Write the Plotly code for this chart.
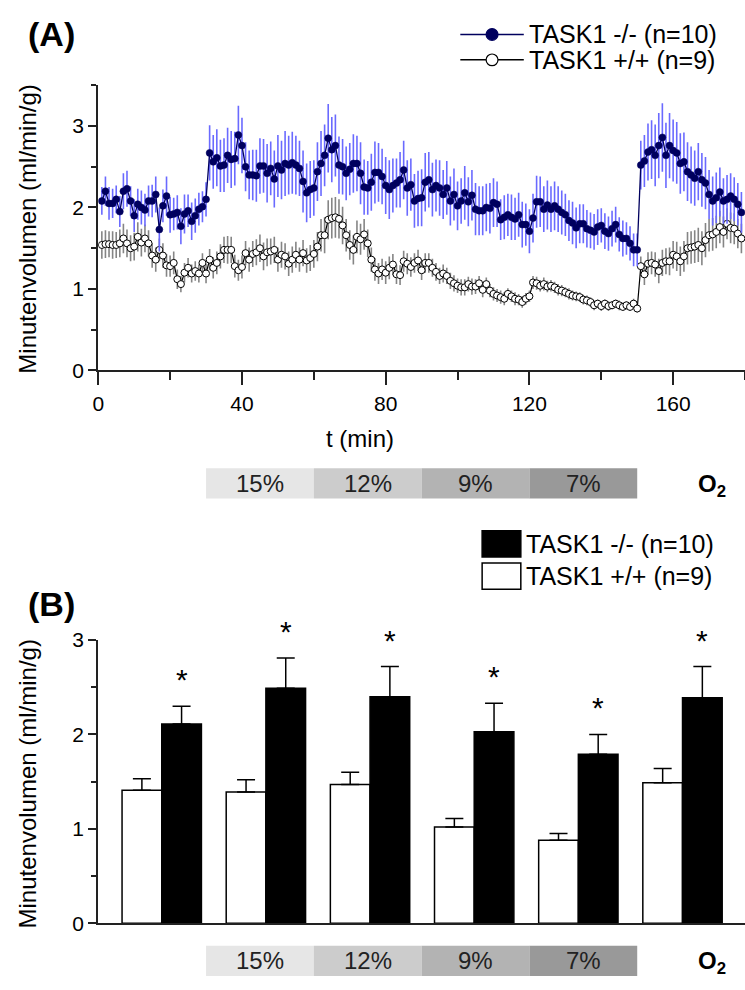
import plotly.graph_objects as go

W, H = 745, 990
FONT = "Liberation Sans, Arial, sans-serif"

# ---------------- data: panel A (time course) ----------------
time_min = list(range(1, 180))

ko_mean = [
    2.08, 2.20, 2.05, 2.05, 2.10, 1.95, 2.20, 2.23, 2.08, 1.90,
    2.04, 2.00, 1.97, 2.08, 2.08, 2.16, 1.73, 2.02, 2.14, 1.91,
    1.92, 1.94, 1.77, 1.92, 1.96, 1.83, 1.90, 1.98, 2.01, 2.10,
    2.67, 2.56, 2.61, 2.51, 2.52, 2.64, 2.59, 2.60, 2.89, 2.76,
    2.50, 2.40, 2.40, 2.39, 2.51, 2.51,
    2.42, 2.48, 2.35, 2.51, 2.46, 2.54, 2.52, 2.55, 2.52, 2.48,
    2.32, 2.18, 2.22, 2.24, 2.44, 2.54, 2.64, 2.85, 2.71, 2.76,
    2.52, 2.50, 2.42, 2.47, 2.54, 2.54, 2.42, 2.25, 2.24, 2.31,
    2.43, 2.43, 2.38, 2.27, 2.22, 2.27, 2.30, 2.34, 2.46, 2.24,
    2.28, 2.08, 2.11, 2.12, 2.31,
    2.34, 2.22, 2.27, 2.24, 2.16, 2.24, 2.08, 2.16, 2.02, 2.08,
    2.18, 2.07, 2.15, 1.98, 1.96, 1.96, 2.00, 1.99, 2.06, 2.04,
    1.85, 1.88, 1.91, 1.88, 1.86, 1.91, 1.79, 1.79, 1.71, 1.87,
    2.07, 2.07, 1.98, 2.03, 1.98, 2.02, 1.98, 1.94, 1.91, 1.84,
    1.81, 1.75, 1.80, 1.80, 1.74, 1.72,
    1.70, 1.76, 1.78, 1.71, 1.68, 1.74, 1.79, 1.67, 1.62, 1.62,
    1.56, 1.48, 1.48, 2.52, 2.57, 2.68, 2.71, 2.64, 2.76, 2.86,
    2.64, 2.76, 2.70, 2.67, 2.54, 2.56, 2.44, 2.40, 2.36, 2.44,
    2.34, 2.30, 2.16, 2.08, 2.12, 2.19, 2.08, 2.10, 2.14, 2.10,
    2.04, 1.94,
]
ko_sem = [
    0.17, 0.18, 0.20, 0.18, 0.17, 0.19, 0.22, 0.22, 0.18, 0.20,
    0.19, 0.21, 0.20, 0.19, 0.20, 0.22, 0.27, 0.20, 0.24, 0.22,
    0.20, 0.21, 0.22, 0.24, 0.20, 0.23, 0.21, 0.20, 0.19, 0.21,
    0.34, 0.33, 0.35, 0.32, 0.33, 0.34, 0.35, 0.33, 0.36, 0.34,
    0.30, 0.30, 0.31, 0.32, 0.34, 0.33,
    0.36, 0.33, 0.35, 0.38, 0.36, 0.40, 0.36, 0.38, 0.36, 0.34,
    0.38, 0.36, 0.35, 0.34, 0.36, 0.40, 0.38, 0.42, 0.40, 0.38,
    0.35, 0.34, 0.33, 0.32, 0.36, 0.34, 0.38, 0.34, 0.33, 0.35,
    0.38, 0.36, 0.34, 0.35, 0.36, 0.33, 0.30, 0.34, 0.36, 0.34,
    0.32, 0.33, 0.34, 0.35, 0.36,
    0.34, 0.33, 0.32, 0.34, 0.30, 0.33, 0.30, 0.32, 0.30, 0.28,
    0.33, 0.30, 0.31, 0.32, 0.30, 0.30, 0.29, 0.31, 0.30, 0.28,
    0.25, 0.27, 0.26, 0.28, 0.26, 0.27, 0.28, 0.26, 0.27,
    0.30, 0.32, 0.31, 0.28, 0.30, 0.28, 0.30, 0.28, 0.27, 0.26,
    0.25, 0.26, 0.25, 0.24, 0.24, 0.23, 0.22, 0.22, 0.22, 0.21,
    0.22, 0.21, 0.22, 0.22, 0.21, 0.22, 0.20, 0.21, 0.20, 0.20,
    0.30, 0.32, 0.35, 0.36, 0.38, 0.40, 0.42, 0.40, 0.40, 0.38,
    0.38, 0.37, 0.36, 0.36, 0.35, 0.34, 0.35, 0.33, 0.32, 0.30,
    0.30, 0.31, 0.30, 0.28, 0.30, 0.28, 0.27, 0.26, 0.25,
]
wt_mean = [
    1.54, 1.55, 1.55, 1.54, 1.54, 1.56, 1.62, 1.56, 1.50, 1.52,
    1.64, 1.57, 1.62, 1.56, 1.41, 1.36, 1.48, 1.41, 1.29, 1.28,
    1.32, 1.12, 1.06, 1.20, 1.26, 1.19, 1.22, 1.19, 1.32, 1.19,
    1.36, 1.26, 1.32, 1.40, 1.48, 1.48, 1.48, 1.28, 1.23, 1.27,
    1.44, 1.36, 1.43, 1.45, 1.50, 1.40,
    1.45, 1.46, 1.48, 1.36, 1.42, 1.40, 1.31, 1.36, 1.42, 1.36,
    1.44, 1.35, 1.38, 1.43, 1.52, 1.66, 1.66, 1.85, 1.87, 1.88,
    1.86, 1.78, 1.66, 1.54, 1.48, 1.64, 1.61, 1.67, 1.56, 1.36,
    1.24, 1.19, 1.24, 1.20, 1.26, 1.30, 1.18, 1.17, 1.34, 1.31,
    1.27, 1.32, 1.35, 1.23, 1.32,
    1.32, 1.26, 1.21, 1.16, 1.19, 1.16, 1.10, 1.07, 1.04, 1.02,
    1.02, 1.06, 1.03, 1.03, 1.07, 0.99, 1.06, 0.98, 0.94, 0.92,
    0.90, 0.88, 0.94, 0.91, 0.88, 0.87, 0.84, 0.88, 0.91,
    1.08, 1.07, 1.04, 1.06, 1.03, 1.04, 1.02, 0.99, 0.98, 0.96,
    0.94, 0.92, 0.91, 0.90, 0.87, 0.86, 0.84,
    0.80, 0.82, 0.79, 0.82, 0.79, 0.80, 0.82, 0.80, 0.78, 0.80,
    0.78, 0.82, 0.76,
    1.28, 1.18, 1.31, 1.32, 1.30, 1.22, 1.32, 1.34, 1.34, 1.42,
    1.40, 1.34, 1.40, 1.50, 1.51, 1.52, 1.54, 1.50, 1.60, 1.66,
    1.67, 1.70, 1.76, 1.70, 1.80, 1.75, 1.74, 1.68, 1.62,
]
wt_sem = [
    0.17, 0.17, 0.16, 0.17, 0.16, 0.17, 0.18, 0.17, 0.16, 0.17,
    0.18, 0.17, 0.17, 0.16, 0.15, 0.15, 0.14, 0.15, 0.14, 0.13,
    0.14, 0.12, 0.10, 0.12, 0.12, 0.11, 0.12, 0.11, 0.12, 0.12,
    0.13, 0.13, 0.14, 0.15, 0.16, 0.17, 0.16, 0.14, 0.13, 0.14,
    0.15, 0.15, 0.16, 0.16, 0.17, 0.17,
    0.17, 0.16, 0.16, 0.15, 0.16, 0.16, 0.15, 0.16, 0.16, 0.15,
    0.16, 0.15, 0.16, 0.17, 0.18, 0.20, 0.22, 0.24, 0.25, 0.25,
    0.24, 0.23, 0.20, 0.18, 0.18, 0.20, 0.19, 0.19, 0.17, 0.15,
    0.14, 0.13, 0.13, 0.14, 0.14, 0.13, 0.12, 0.12, 0.13, 0.13,
    0.12, 0.12, 0.13, 0.12, 0.12,
    0.12, 0.11, 0.11, 0.10, 0.11, 0.10, 0.10, 0.10, 0.09, 0.10,
    0.10, 0.09, 0.10, 0.09, 0.09, 0.09, 0.08, 0.08, 0.08, 0.08,
    0.08, 0.08, 0.07, 0.07, 0.08, 0.07, 0.07, 0.07, 0.07,
    0.08, 0.08, 0.07, 0.08, 0.07, 0.07, 0.07, 0.07, 0.07, 0.06,
    0.07, 0.06, 0.06, 0.06, 0.06, 0.06, 0.06, 0.06, 0.05, 0.06,
    0.05, 0.06, 0.05, 0.05, 0.06, 0.05, 0.05, 0.05, 0.06, 0.05,
    0.12, 0.13, 0.14, 0.14, 0.15, 0.15, 0.16, 0.16, 0.17, 0.17,
    0.18, 0.18, 0.19, 0.20, 0.20, 0.20, 0.21, 0.21, 0.21, 0.20,
    0.20, 0.20, 0.20, 0.19, 0.19, 0.19, 0.19, 0.18, 0.18,
]

ko_name = "TASK1 -/- (n=10)"
wt_name = "TASK1 +/+ (n=9)"

# O2 phases (minutes)
o2_labels = ["15%", "12%", "9%", "7%"]
o2_start = [30, 60, 90, 120]
o2_end = [60, 90, 120, 150]

# ---------------- data: panel B (phase means) ----------------
phase_index = [0, 1, 2, 3, 4, 5]
bar_wt_mean = [1.41, 1.39, 1.47, 1.02, 0.88, 1.49]
bar_wt_sem = [0.12, 0.13, 0.13, 0.09, 0.07, 0.15]
bar_ko_mean = [2.11, 2.49, 2.40, 2.03, 1.79, 2.39]
bar_ko_sem = [0.19, 0.32, 0.32, 0.30, 0.21, 0.33]
significant = [True, True, True, True, True, True]

# ---------------- styles ----------------
o2_fill = ["#e6e6e6", "#cccccc", "#b3b3b3", "#999999"]
NAVY = "#00005e"
BLUE_ERR = "#6a6aff"
GRAY_ERR = "#858585"
AX = "#222222"
BARGAP = 0.238


def px(x):
    return x / W


def py(y):
    return 1 - y / H


def note(x, y, text, size, xanchor="center", yanchor="middle", **kw):
    return dict(x=px(x), y=py(y), xref="paper", yref="paper", text=text,
                showarrow=False, xanchor=xanchor, yanchor=yanchor,
                font=dict(family=FONT, size=size, color=kw.pop("color", "black")), **kw)


fig = go.Figure()

# Panel A traces
fig.add_trace(go.Scatter(
    x=time_min, y=wt_mean, mode="lines+markers", name=wt_name,
    line=dict(color="black", width=1.2),
    marker=dict(symbol="circle", size=7, color="white", line=dict(color="black", width=1)),
    error_y=dict(type="data", array=wt_sem, visible=True, color=GRAY_ERR, thickness=1.6, width=0),
    xaxis="x", yaxis="y", showlegend=False,
))
fig.add_trace(go.Scatter(
    x=time_min, y=ko_mean, mode="lines+markers", name=ko_name,
    line=dict(color=NAVY, width=1.3),
    marker=dict(symbol="circle", size=7, color=NAVY, line=dict(color=NAVY, width=0.5)),
    error_y=dict(type="data", array=ko_sem, visible=True, color=BLUE_ERR, thickness=1.6, width=0),
    xaxis="x", yaxis="y", showlegend=False,
))

# Panel B bars
zeros = [0] * len(phase_index)
fig.add_trace(go.Bar(
    x=phase_index, y=bar_wt_mean, name=wt_name,
    marker=dict(color="white", line=dict(color="black", width=1.5)),
    error_y=dict(type="data", array=bar_wt_sem, arrayminus=zeros, symmetric=False,
                 color="black", thickness=1.5, width=9),
    xaxis="x2", yaxis="y2", showlegend=False,
))
fig.add_trace(go.Bar(
    x=phase_index, y=bar_ko_mean, name=ko_name,
    marker=dict(color="black", line=dict(color="black", width=1.5)),
    error_y=dict(type="data", array=bar_ko_sem, arrayminus=zeros, symmetric=False,
                 color="black", thickness=1.5, width=9),
    xaxis="x2", yaxis="y2", showlegend=False,
))

tickfont = dict(family=FONT, size=21, color="black")
common_axis = dict(showline=True, linecolor=AX, linewidth=2, showgrid=False, zeroline=False,
                   tickfont=tickfont, tickcolor=AX, tickwidth=2)

fig.update_layout(
    width=W, height=H,
    margin=dict(l=0, r=0, t=0, b=0),
    paper_bgcolor="white", plot_bgcolor="white",
    font=dict(family=FONT, color="black"),
    barmode="group", bargap=BARGAP, bargroupgap=0,
    xaxis=dict(domain=[px(93), 1], range=[0, 180], anchor="y",
               ticks="outside", ticklen=13, tickmode="linear", tick0=0, dtick=40,
               minor=dict(ticks="outside", ticklen=8, dtick=20, tickwidth=2, tickcolor=AX),
               **common_axis),
    yaxis=dict(domain=[py(367), py(75)], range=[0, 3.5], anchor="x",
               ticks="outside", ticklen=8, tickmode="linear", tick0=0, dtick=1,
               minor=dict(ticks="outside", ticklen=5, dtick=0.5, tickwidth=2, tickcolor=AX),
               **common_axis),
    xaxis2=dict(domain=[px(93), 1], range=[-0.6095, 5.6], anchor="y2",
                ticks="", showticklabels=False, **common_axis),
    yaxis2=dict(domain=[py(933), py(643)], range=[0, 3], anchor="x2",
                ticks="outside", ticklen=8, tickmode="linear", tick0=0, dtick=1,
                minor=dict(ticks="outside", ticklen=5, dtick=0.5, tickwidth=2, tickcolor=AX),
                **common_axis),
)

shapes = []
annotations = []

# O2 strips (aligned with panel A time axis) for both panels
for strip_top, strip_bot in [(467, 498), (956, 987)]:
    mid = (strip_top + strip_bot) / 2
    for lab, s, e, col in zip(o2_labels, o2_start, o2_end, o2_fill):
        shapes.append(dict(type="rect", xref="x", yref="paper", x0=s, x1=e,
                           y0=py(strip_bot), y1=py(strip_top), fillcolor=col,
                           line=dict(width=0), layer="above"))
        annotations.append(dict(x=(s + e) / 2, y=py(mid), xref="x", yref="paper",
                                text=lab, showarrow=False, xanchor="center", yanchor="middle",
                                font=dict(family=FONT, size=24, color="#222222")))
    annotations.append(note(712, mid + 2, "<b>O<sub>2</sub></b>", 24))

# Panel labels
annotations.append(note(46, 23, "<b>(A)</b>", 34))
annotations.append(note(46, 606, "<b>(B)</b>", 34))

# Axis titles
annotations.append(note(357, 437, "t (min)", 24))
annotations.append(note(22, 222, "Minutenvolumen (ml/min/g)", 24, textangle=-90))
annotations.append(note(22, 790, "Minutenvolumen (ml/min/g)", 24, textangle=-90))

# Legend A (drawn manually)
for (row_y, lcol, mfill, name) in [(23, NAVY, NAVY, ko_name), (49, "black", "white", wt_name)]:
    shapes.append(dict(type="line", xref="paper", yref="paper", x0=px(458), x1=px(522),
                       y0=py(row_y), y1=py(row_y), line=dict(color=lcol, width=1.5)))
    shapes.append(dict(type="circle", xref="paper", yref="paper", x0=px(484), x1=px(496),
                       y0=py(row_y + 6), y1=py(row_y - 6), fillcolor=mfill,
                       line=dict(color=lcol, width=1.2)))
    annotations.append(note(525, row_y, name, 25, xanchor="left"))

# Legend B (drawn manually)
for (top, bot, fill, name) in [(531, 558, "black", ko_name), (564, 591, "white", wt_name)]:
    shapes.append(dict(type="rect", xref="paper", yref="paper", x0=px(480), x1=px(519),
                       y0=py(bot), y1=py(top), fillcolor=fill, line=dict(color="black", width=1.5)))
    annotations.append(note(522, (top + bot) / 2, name, 25, xanchor="left"))

# Significance stars above the KO bars
slot = (1 - BARGAP) / 2
for i, m, s, sig in zip(phase_index, bar_ko_mean, bar_ko_sem, significant):
    if sig:
        annotations.append(dict(x=i + slot / 2, y=m + s, xref="x2", yref="y2", text="*",
                                showarrow=False, xanchor="center", yanchor="bottom", yshift=8,
                                font=dict(family=FONT, size=30, color="black")))

fig.update_layout(shapes=shapes, annotations=annotations)
fig.write_html("out.html")
